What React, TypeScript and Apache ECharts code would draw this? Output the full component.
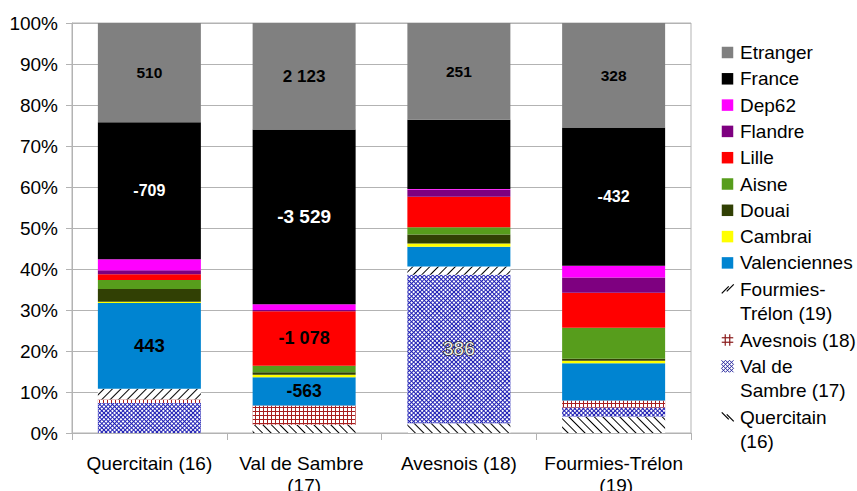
import React, { useEffect, useRef } from "react";
import * as echarts from "echarts";

// ---------- data ----------
const categories = ["Quercitain (16)", "Val de Sambre (17)", "Avesnois (18)", "Fourmies-Trélon (19)"];

// share of each bar (%), stacked bottom to top
const quercitain16 = [0, 2.0, 2.4, 4.0];
const valDeSambre17 = [7.3, 0, 36.2, 2.2];
const avesnois18 = [0.9, 4.7, 0, 1.7];
const fourmiesTrelon19 = [2.6, 0, 2.0, 0];
const valenciennes = [20.9, 6.9, 4.8, 9.1];
const cambrai = [0.3, 0.6, 0.8, 0.6];
const douai = [3.1, 0.6, 2.2, 0.5];
const aisne = [2.2, 1.6, 1.8, 7.6];
const lille = [1.4, 13.3, 7.4, 8.5];
const flandre = [1.0, 0.3, 1.7, 3.7];
const dep62 = [2.7, 1.4, 0.2, 2.9];
const france = [33.4, 42.6, 16.9, 33.7];
const etranger = [24.2, 26.0, 23.6, 25.5];

// value labels printed inside segments
const etrangerLabels = ["510", "2 123", "251", "328"];
const franceLabels = ["-709", "-3 529", null, "-432"];
const lilleLabels = [null, "-1 078", null, null];
const valenciennesLabels = ["443", "-563", null, null];
const valDeSambreLabels = [null, null, "386", null];

const seriesNames = [
  "Quercitain (16)", "Val de Sambre (17)", "Avesnois (18)", "Fourmies-Trélon (19)",
  "Valenciennes", "Cambrai", "Douai", "Aisne", "Lille", "Flandre", "Dep62", "France", "Etranger",
];
const seriesData = [
  quercitain16, valDeSambre17, avesnois18, fourmiesTrelon19,
  valenciennes, cambrai, douai, aisne, lille, flandre, dep62, france, etranger,
];
const seriesLabels: Record<string, (string | null)[]> = {
  Etranger: etrangerLabels,
  France: franceLabels,
  Lille: lilleLabels,
  Valenciennes: valenciennesLabels,
  "Val de Sambre (17)": valDeSambreLabels,
};

// legend texts (top to bottom)
const legendNames = [...seriesNames].reverse();
const legendTexts = [
  "Etranger", "France", "Dep62", "Flandre", "Lille", "Aisne", "Douai", "Cambrai", "Valenciennes",
  "Fourmies-\nTrélon (19)", "Avesnois (18)", "Val de\nSambre (17)", "Quercitain\n(16)",
];

const yMax = 100;
const yStep = 10;

// ---------- styles ----------
const FONT = "'Liberation Sans', Arial, sans-serif";
const GRID = "#b3b3b3";

const seriesStyle: Record<string, { color: string; decal?: any; icon: string; iconColor?: string }> = {
  "Quercitain (16)": {
    color: "#ffffff",
    decal: { symbol: "rect", symbolSize: 1, color: "#000000", dashArrayX: [1, 0], dashArrayY: [1, 5], rotation: Math.PI / 4 },
    icon: "back", iconColor: "#000",
  },
  "Val de Sambre (17)": {
    color: "#1e1eb4",
    decal: { symbol: "rect", symbolSize: 1, color: "#ffffff", dashArrayX: [2, 1], dashArrayY: [2, 1], rotation: Math.PI / 4 },
    icon: "cross", iconColor: "#2a2aa0",
  },
  "Avesnois (18)": {
    color: "#a81e1e",
    decal: { symbol: "rect", symbolSize: 1, color: "#ffffff", dashArrayX: [3, 1], dashArrayY: [3, 1], rotation: 0 },
    icon: "grid", iconColor: "#8b1c1c",
  },
  "Fourmies-Trélon (19)": {
    color: "#ffffff",
    decal: { symbol: "rect", symbolSize: 1, color: "#000000", dashArrayX: [1, 0], dashArrayY: [1, 5], rotation: -Math.PI / 4 },
    icon: "fwd", iconColor: "#000",
  },
  Valenciennes: { color: "#0084d1", icon: "rect" },
  Cambrai: { color: "#ffff00", icon: "rect" },
  Douai: { color: "#314004", icon: "rect" },
  Aisne: { color: "#579d1c", icon: "rect" },
  Lille: { color: "#ff0000", icon: "rect" },
  Flandre: { color: "#7e0080", icon: "rect" },
  Dep62: { color: "#ff00ff", icon: "rect" },
  France: { color: "#000000", icon: "rect" },
  Etranger: { color: "#808080", icon: "rect" },
};

const labelStyle: Record<string, any[]> = {
  Etranger: [{ fontSize: 15.5 }, { fontSize: 17 }, { fontSize: 15.5 }, { fontSize: 15.5 }],
  France: [{ fontSize: 16, color: "#fff" }, { fontSize: 19, color: "#fff" }, {}, { fontSize: 16, color: "#fff" }],
  Lille: [{}, { fontSize: 18 }, {}, {}],
  Valenciennes: [{ fontSize: 18.5 }, { fontSize: 17.5 }, {}, {}],
  "Val de Sambre (17)": [{}, {}, { fontSize: 19, color: "#eeeeee", fontWeight: "normal", textBorderColor: "#222", textBorderWidth: 1.5 }, {}],
};

function iconElements(kind: string, color: string, cx: number, cy: number): any[] {
  const s = 11.5;
  const x0 = cx - s / 2;
  const y0 = cy - s / 2;
  const line = (x1: number, y1: number, x2: number, y2: number, w = 1.2) => ({
    type: "line",
    shape: { x1, y1, x2, y2 },
    style: { stroke: color, lineWidth: w },
    silent: true,
  });
  if (kind === "rect") {
    return [{ type: "rect", shape: { x: x0, y: y0, width: s, height: s }, style: { fill: color }, silent: true }];
  }
  if (kind === "fwd") {
    return [line(x0, y0 + 10, x0 + 7, y0 + 3), line(x0 + 5, y0 + 8, x0 + 12, y0 + 1)];
  }
  if (kind === "back") {
    return [line(x0, y0 + 1, x0 + 7, y0 + 8), line(x0 + 5, y0 + 3, x0 + 12, y0 + 10)];
  }
  if (kind === "grid") {
    return [
      line(x0 + 3.5, y0, x0 + 3.5, y0 + s),
      line(x0 + 8, y0, x0 + 8, y0 + s),
      line(x0, y0 + 3.5, x0 + s, y0 + 3.5),
      line(x0, y0 + 8, x0 + s, y0 + 8),
    ];
  }
  // crosshatch
  const els: any[] = [];
  const sz = 12;
  const bx = cx - sz / 2;
  const by = cy - sz / 2;
  for (const o of [-8, -4, 0, 4, 8]) {
    const u1 = Math.max(0, -o);
    const u2 = Math.min(sz, sz - o);
    if (u2 > u1) els.push(line(bx + u1, by + u1 + o, bx + u2, by + u2 + o, 1));
    const w1 = Math.max(0, o);
    const w2 = Math.min(sz, sz + o);
    if (w2 > w1) els.push(line(bx + w1, by + sz - w1 + o, bx + w2, by + sz - w2 + o, 1));
  }
  return els;
}

function legendGraphics(): any[] {
  const els: any[] = [];
  let y = 52.5;
  legendNames.forEach((name, idx) => {
    const lines = legendTexts[idx].split("\n");
    const st = seriesStyle[name];
    els.push(...iconElements(st.icon, st.iconColor || st.color, 727.5, y));
    lines.forEach((ln, i) => {
      els.push({
        type: "text",
        x: 740,
        y: y + i * 24.5,
        style: {
          text: ln,
          fill: "#000",
          fontSize: 19,
          fontFamily: FONT,
          verticalAlign: "middle",
          textVerticalAlign: "middle",
          align: "left",
        },
        silent: true,
      });
    });
    y += 26.3 + 24.5 * (lines.length - 1);
  });
  return els;
}

export default function App() {
  const ref = useRef<HTMLDivElement>(null);
  useEffect(() => {
    document.body.style.margin = "0";
    if (!ref.current) return;
    const chart = echarts.init(ref.current, null, { renderer: "svg" });

    const series = seriesNames.map((name, si) => {
      const st = seriesStyle[name];
      const labels = seriesLabels[name];
      const lstyles = labelStyle[name] || [];
      return {
        name,
        type: "bar",
        stack: "total",
        barWidth: 103,
        itemStyle: { color: st.color, decal: st.decal },
        emphasis: { disabled: true },
        data: seriesData[si].map((v, ci) => {
          const txt = labels ? labels[ci] : null;
          if (!txt) return { value: v };
          return {
            value: v,
            label: {
              show: true,
              position: "inside",
              formatter: txt,
              color: "#000",
              fontWeight: "bold",
              fontFamily: FONT,
              fontSize: 16,
              ...lstyles[ci],
            },
          };
        }),
      };
    });

    chart.setOption({
      animation: false,
      backgroundColor: "#ffffff",
      grid: {
        left: 72, right: 166, top: 23, bottom: 58,
        show: true, borderColor: GRID, borderWidth: 1,
        containLabel: false, outerBoundsMode: "none",
      },
      xAxis: {
        type: "category",
        data: categories,
        axisLine: { show: true, lineStyle: { color: GRID, width: 1 } },
        axisTick: { show: true, length: 7, lineStyle: { color: GRID } },
        axisLabel: {
          color: "#000",
          fontSize: 19,
          fontFamily: FONT,
          margin: 19,
          lineHeight: 22,
          width: 152,
          overflow: "break",
          interval: 0,
        },
        splitLine: { show: false },
      },
      yAxis: {
        type: "value",
        min: 0,
        max: yMax,
        interval: yStep,
        axisLine: { show: true, lineStyle: { color: GRID, width: 1 } },
        axisTick: { show: true, length: 6, lineStyle: { color: GRID } },
        axisLabel: { formatter: "{value}%", color: "#000", fontSize: 19, fontFamily: FONT, margin: 14 },
        splitLine: { show: true, lineStyle: { color: GRID, width: 1 } },
      },
      series,
      graphic: legendGraphics(),
    });
    return () => chart.dispose();
  }, []);
  return <div ref={ref} style={{ width: 857, height: 491 }} />;
}
